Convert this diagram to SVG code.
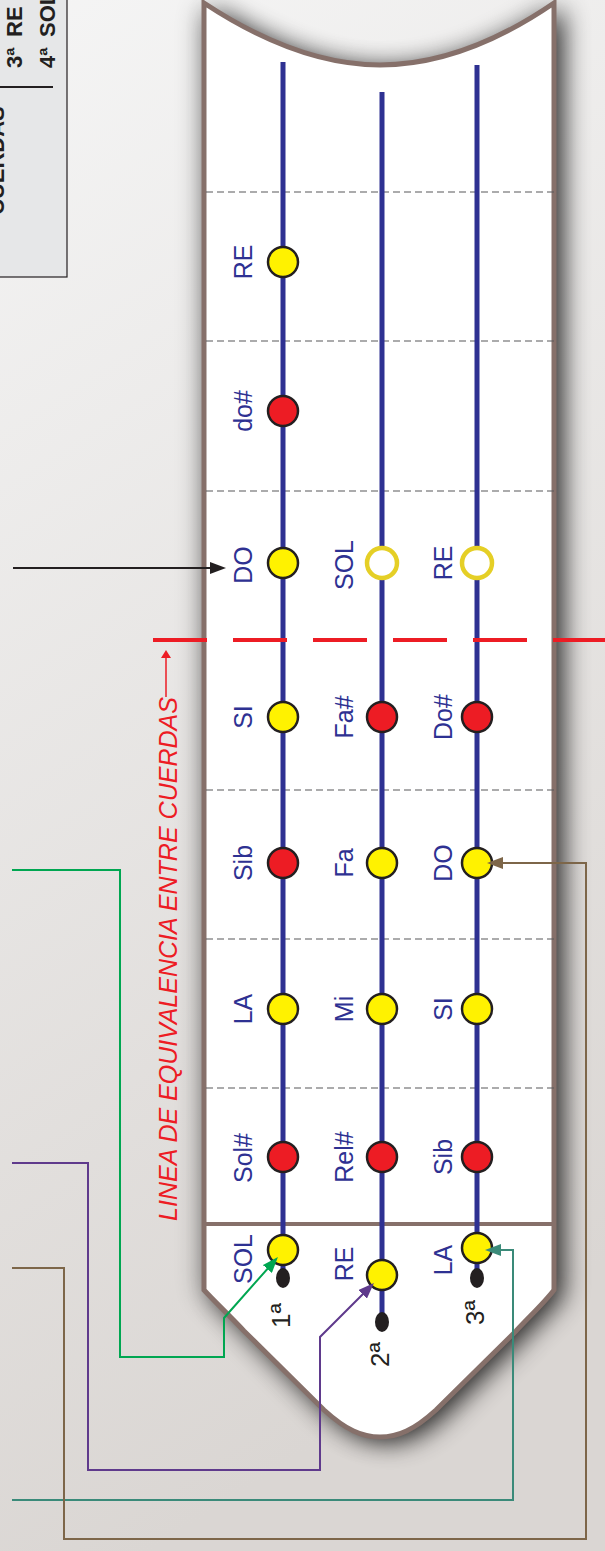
<svg xmlns="http://www.w3.org/2000/svg" width="605" height="1551" viewBox="0 0 605 1551">
<defs>
  <linearGradient id="bg" x1="0" y1="0" x2="0.25" y2="1">
    <stop offset="0" stop-color="#f5f5f5"/>
    <stop offset="1" stop-color="#dad6d3"/>
  </linearGradient>
  <filter id="blur" x="-20%" y="-10%" width="140%" height="120%">
    <feGaussianBlur stdDeviation="13"/>
  </filter>
  <marker id="mBlack" viewBox="0 0 16 12" refX="4" refY="6" markerWidth="16" markerHeight="12" markerUnits="userSpaceOnUse" orient="auto"><path d="M0,0 L16,6 L0,12 z" fill="#231f20"/></marker>
  <marker id="mGreen" viewBox="0 0 16 12" refX="4" refY="6" markerWidth="16" markerHeight="12" markerUnits="userSpaceOnUse" orient="auto"><path d="M0,0 L16,6 L0,12 z" fill="#00a651"/></marker>
  <marker id="mPurple" viewBox="0 0 16 12" refX="4" refY="6" markerWidth="16" markerHeight="12" markerUnits="userSpaceOnUse" orient="auto"><path d="M0,0 L16,6 L0,12 z" fill="#5f3a8c"/></marker>
  <marker id="mTeal" viewBox="0 0 16 12" refX="4" refY="6" markerWidth="16" markerHeight="12" markerUnits="userSpaceOnUse" orient="auto"><path d="M0,0 L16,6 L0,12 z" fill="#3a8a79"/></marker>
  <marker id="mBrown" viewBox="0 0 16 12" refX="4" refY="6" markerWidth="16" markerHeight="12" markerUnits="userSpaceOnUse" orient="auto"><path d="M0,0 L16,6 L0,12 z" fill="#7d6649"/></marker>
  <marker id="mRed" viewBox="0 0 8 10" refX="2" refY="5" markerWidth="8" markerHeight="10" markerUnits="userSpaceOnUse" orient="auto"><path d="M0,0 L8,5 L0,10 z" fill="#ed1c24"/></marker>
  <path id="board" d="M204,3 C260,40 320,65 380,65 C440,65 500,40 554,3 L554,1290 C545,1302 530,1316 516,1331 L436,1410 C414,1430 398,1437 380,1437 C362,1437 346,1430 324,1410 L244,1331 C230,1316 215,1302 204,1290 Z"/>
</defs>
<style>
  .lbl { font-family: "Liberation Sans", Arial, sans-serif; font-size: 25px; fill: #2e3192; text-anchor: middle; }
  .num { font-family: "Liberation Sans", Arial, sans-serif; font-size: 26px; fill: #231f20; }
  .sup { font-size: 28px; }
  .box { font-family: "Liberation Sans", Arial, sans-serif; font-size: 22px; font-weight: bold; fill: #231f20; }
  .fret { stroke: #58595b; stroke-width: 1.2; stroke-dasharray: 7 4; fill: none; }
  .str { stroke: #2e3192; stroke-width: 5; fill: none; }
  .y { fill: #fff200; stroke: #231f20; stroke-width: 2.5; }
  .r { fill: #ed1c24; stroke: #231f20; stroke-width: 2.5; }
  .o { fill: #ffffff; stroke: #e5cf26; stroke-width: 4.5; }
  .dot { fill: #231f20; }
  .conn { fill: none; stroke-width: 2; }
</style>

<rect x="0" y="0" width="605" height="1551" fill="url(#bg)"/>

<!-- legend box (cut off) -->
<g id="legend">
  <rect x="-5" y="-5" width="72" height="282" fill="#e6e7e8" stroke="#231f20" stroke-width="1.2"/>
  <line x1="0" y1="87" x2="53" y2="87" stroke="#231f20" stroke-width="2"/>
  <text class="box" transform="translate(22,68) rotate(-90)">3ª</text>
  <text class="box" transform="translate(22,37) rotate(-90)">RE</text>
  <text class="box" transform="translate(55,68) rotate(-90)">4ª</text>
  <text class="box" transform="translate(55,37) rotate(-90)">SOL</text>
  <text class="box" font-size="23" transform="translate(4,215) rotate(-90)">CUERDAS</text>
</g>

<!-- fingerboard -->
<g id="fingerboard">
  <use href="#board" fill="#000" opacity="0.75" filter="url(#blur)" transform="translate(10,5)"/>
  <use href="#board" fill="#000" opacity="0.3" filter="url(#blur)" transform="translate(-4,2)"/>
  <use href="#board" fill="#ffffff" stroke="#86706a" stroke-width="5" stroke-linejoin="miter"/>
  <line x1="204" y1="1224" x2="554" y2="1224" stroke="#86706a" stroke-width="4"/>
  <g id="frets">
    <line class="fret" x1="206" y1="192" x2="557" y2="192"/>
    <line class="fret" x1="206" y1="341" x2="557" y2="341"/>
    <line class="fret" x1="206" y1="491" x2="557" y2="491"/>
    <line class="fret" x1="206" y1="790" x2="557" y2="790"/>
    <line class="fret" x1="206" y1="939" x2="557" y2="939"/>
    <line class="fret" x1="206" y1="1088" x2="557" y2="1088"/>
  </g>
</g>

<!-- strings -->
<g id="strings">
  <line class="str" x1="283" y1="62" x2="283" y2="1278"/>
  <line class="str" x1="382" y1="92" x2="382" y2="1322"/>
  <line class="str" x1="477" y1="65" x2="477" y2="1278"/>
  <ellipse class="dot" cx="283" cy="1278" rx="7" ry="10"/>
  <ellipse class="dot" cx="382" cy="1322" rx="7" ry="10"/>
  <ellipse class="dot" cx="477" cy="1278" rx="7" ry="10"/>
</g>

<!-- equivalence line -->
<g id="equivalence">
  <line x1="153" y1="640" x2="607" y2="640" stroke="#ed1c24" stroke-width="4" stroke-dasharray="54 26"/>
  <text transform="translate(177,1221) rotate(-90)" font-family="'Liberation Sans', Arial, sans-serif" font-style="italic" font-size="25" fill="#ed1c24" textLength="524" lengthAdjust="spacingAndGlyphs">LINEA DE EQUIVALENCIA ENTRE CUERDAS</text>
  <line x1="166" y1="697" x2="166" y2="656" stroke="#ed1c24" stroke-width="1.5" marker-end="url(#mRed)"/>
</g>

<!-- notes -->
<g id="row-RE"><circle class="y" cx="283" cy="262" r="15"/><text class="lbl" transform="translate(252,262) rotate(-90)">RE</text></g>
<g id="row-do#"><circle class="r" cx="283" cy="411" r="15"/><text class="lbl" transform="translate(252,411) rotate(-90)">do#</text></g>

<g id="n-DO"><circle class="y" cx="283" cy="563" r="15"/><text class="lbl" transform="translate(252,565) rotate(-90)">DO</text></g>
<g id="n-SOL-open"><circle class="o" cx="382" cy="563" r="15"/><text class="lbl" transform="translate(353,565) rotate(-90)">SOL</text></g>
<g id="n-RE-open"><circle class="o" cx="477" cy="563" r="15"/><text class="lbl" transform="translate(452,563) rotate(-90)">RE</text></g>

<g id="n-SI"><circle class="y" cx="283" cy="717" r="15"/><text class="lbl" transform="translate(252,717) rotate(-90)">SI</text></g>
<g id="n-Fa#"><circle class="r" cx="382" cy="717" r="15"/><text class="lbl" transform="translate(353,717) rotate(-90)">Fa#</text></g>
<g id="n-Do#"><circle class="r" cx="477" cy="717" r="15"/><text class="lbl" transform="translate(452,717) rotate(-90)">Do#</text></g>

<g id="n-Sib1"><circle class="r" cx="283" cy="863" r="15"/><text class="lbl" transform="translate(252,863) rotate(-90)">Sib</text></g>
<g id="n-Fa"><circle class="y" cx="382" cy="863" r="15"/><text class="lbl" transform="translate(353,863) rotate(-90)">Fa</text></g>
<g id="n-DO3"><circle class="y" cx="477" cy="863" r="15"/><text class="lbl" transform="translate(452,863) rotate(-90)">DO</text></g>

<g id="n-LA"><circle class="y" cx="283" cy="1009" r="15"/><text class="lbl" transform="translate(252,1009) rotate(-90)">LA</text></g>
<g id="n-Mi"><circle class="y" cx="382" cy="1009" r="15"/><text class="lbl" transform="translate(353,1009) rotate(-90)">Mi</text></g>
<g id="n-SI3"><circle class="y" cx="477" cy="1009" r="15"/><text class="lbl" transform="translate(452,1009) rotate(-90)">SI</text></g>

<g id="n-Sol#"><circle class="r" cx="283" cy="1157" r="15"/><text class="lbl" transform="translate(252,1158) rotate(-90)">Sol#</text></g>
<g id="n-Re#"><circle class="r" cx="382" cy="1157" r="15"/><text class="lbl" transform="translate(353,1157) rotate(-90)">Rel#</text></g>
<g id="n-Sib3"><circle class="r" cx="477" cy="1157" r="15"/><text class="lbl" transform="translate(452,1157) rotate(-90)">Sib</text></g>

<g id="open-SOL"><circle class="y" cx="283" cy="1250" r="15"/><text class="lbl" transform="translate(252,1259) rotate(-90)">SOL</text><text class="num" transform="translate(290,1328) rotate(-90)">1<tspan class="sup">ª</tspan></text></g>
<g id="open-RE"><circle class="y" cx="382" cy="1275" r="15"/><text class="lbl" transform="translate(353,1264) rotate(-90)">RE</text><text class="num" transform="translate(389,1367) rotate(-90)">2<tspan class="sup">ª</tspan></text></g>
<g id="open-LA"><circle class="y" cx="477" cy="1248" r="15"/><text class="lbl" transform="translate(452,1260) rotate(-90)">LA</text><text class="num" transform="translate(484,1325) rotate(-90)">3<tspan class="sup">ª</tspan></text></g>

<!-- connectors -->
<g id="connectors">
  <path class="conn" stroke="#231f20" d="M13,568 H214" marker-end="url(#mBlack)"/>
  <path class="conn" stroke="#00a651" d="M12,870 H120 V1357 H224 V1318 L270,1266" marker-end="url(#mGreen)"/>
  <path class="conn" stroke="#5f3a8c" d="M12,1163 H88 V1470 H320 V1337 L365.5,1291.5" marker-end="url(#mPurple)"/>
  <path class="conn" stroke="#3a8a79" d="M12,1500 H513 V1250 H497" marker-end="url(#mTeal)"/>
  <path class="conn" stroke="#7d6649" d="M12,1268 H64 V1539 H586 V863 H499" marker-end="url(#mBrown)"/>
</g>
</svg>
